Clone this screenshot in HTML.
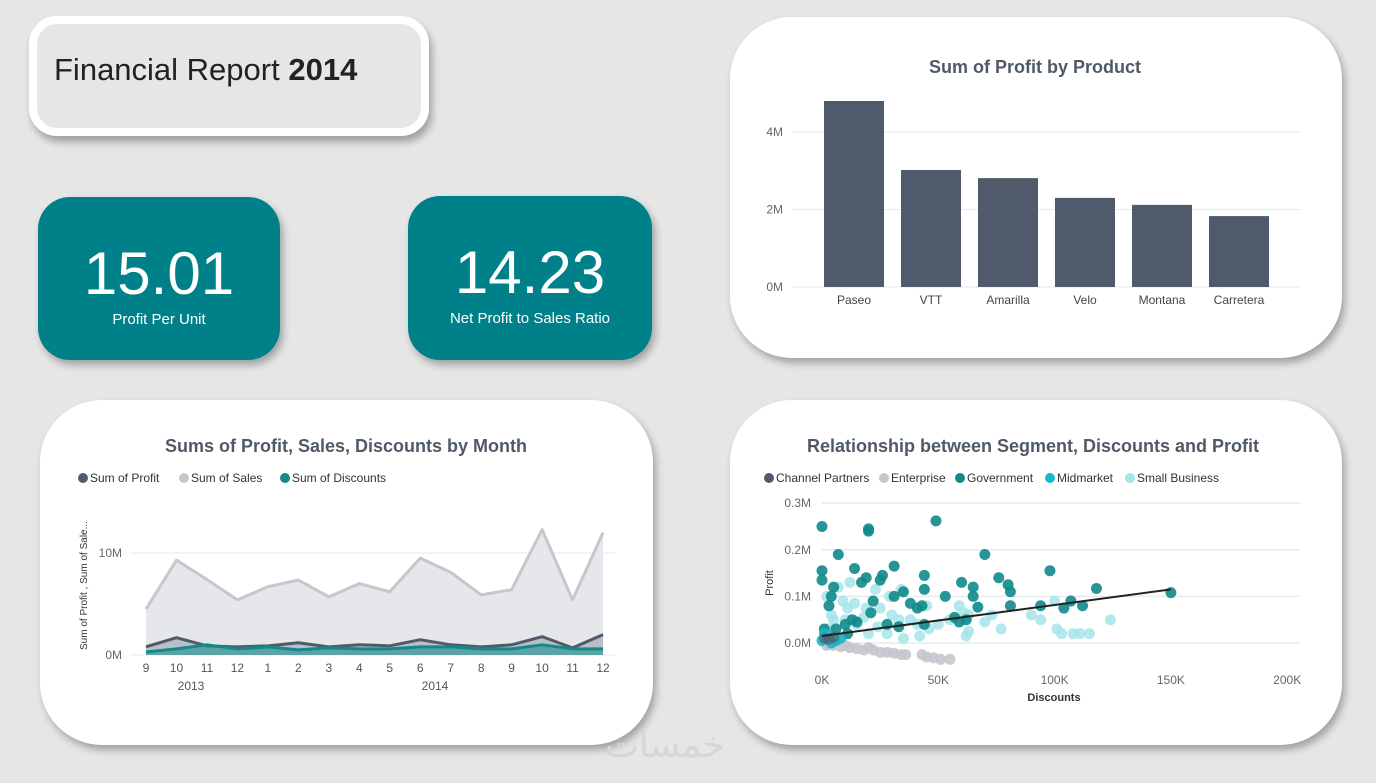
<!DOCTYPE html>
<html><head><meta charset="utf-8"><style>
html,body{margin:0;padding:0}
body{width:1376px;height:783px;background:#e6e6e6;position:relative;overflow:hidden;font-family:"Liberation Sans",sans-serif}
.card{position:absolute;background:#fff;box-shadow:3px 5px 8px rgba(0,0,0,0.3)}
.kpi{position:absolute;background:#00818a;border-radius:32px;color:#fff;text-align:center;box-shadow:3px 5px 8px rgba(0,0,0,0.3)}
.kpi .v{font-size:60px;font-weight:300;margin-top:42px;line-height:70px}
.kpi .l{font-size:15px;margin-top:2px}
svg{position:absolute;left:0;top:0}
</style></head><body>
<div style="position:absolute;left:29px;top:16px;width:384px;height:104px;border:8px solid #fff;border-radius:28px;background:#e6e6e6;box-shadow:3px 6px 8px rgba(0,0,0,0.3)">
<div style="position:absolute;left:17px;top:28px;font-size:31px;color:#222">Financial Report <b>2014</b></div></div>
<div class="kpi" style="left:38px;top:197px;width:242px;height:163px"><div class="v">15.01</div><div class="l">Profit Per Unit</div></div>
<div class="kpi" style="left:408px;top:196px;width:244px;height:164px"><div class="v">14.23</div><div class="l">Net Profit to Sales Ratio</div></div>
<div class="card" style="left:730px;top:17px;width:612px;height:341px;border-radius:62px"></div>
<div class="card" style="left:40px;top:400px;width:613px;height:345px;border-radius:62px"></div>
<div class="card" style="left:730px;top:400px;width:612px;height:345px;border-radius:62px"></div>
<div style="position:absolute;left:605px;top:725px;font-size:36px;color:#d6d6d6;font-family:'DejaVu Sans',sans-serif">خمسات</div>
<svg id="s" width="1376" height="783" xmlns="http://www.w3.org/2000/svg" font-family="Liberation Sans, sans-serif"></svg>
<script>
// Bar chart data
const products=["Paseo","VTT","Amarilla","Velo","Montana","Carretera"];
const profits=[4.8,3.02,2.81,2.30,2.12,1.83];
const barTicks=[0,2,4];
// Line chart data
const months=["9","10","11","12","1","2","3","4","5","6","7","8","9","10","11","12"];
const sales=[4.5,9.3,7.4,5.4,6.7,7.35,5.7,7.0,6.2,9.5,8.1,5.9,6.4,12.3,5.4,12.0];
const profitM=[0.8,1.7,0.9,0.8,0.9,1.2,0.8,1.0,0.9,1.5,1.0,0.8,1.0,1.8,0.7,2.0];
const discountsM=[0.3,0.6,1.0,0.6,0.8,0.5,0.7,0.6,0.6,0.8,0.8,0.6,0.6,1.0,0.6,0.6];
const lineTicks=[0,10];
// Scatter data [discountK, profitM]
const government=[[0,0.25],[20,0.24],[20,0.245],[49,0.262],[7,0.19],[70,0.19],[0,0.155],[14,0.16],[31,0.165],[98,0.155],[19,0.14],[26,0.145],[44,0.145],[76,0.14],[0,0.135],[17,0.13],[25,0.135],[60,0.13],[80,0.125],[65,0.12],[5,0.12],[118,0.117],[44,0.115],[35,0.11],[81,0.11],[4,0.1],[31,0.1],[53,0.1],[65,0.1],[150,0.108],[107,0.09],[22,0.09],[38,0.085],[3,0.08],[67,0.077],[81,0.08],[94,0.08],[112,0.08],[104,0.075],[41,0.075],[43,0.08],[21,0.065],[57,0.055],[62,0.05],[59,0.045],[44,0.04],[13,0.05],[10,0.04],[15,0.045],[28,0.04],[6,0.03],[33,0.035],[1,0.03],[11,0.02]];
const smallBusiness=[[12,0.13],[7,0.12],[23,0.115],[34,0.115],[2,0.1],[29,0.1],[14,0.085],[11,0.075],[19,0.075],[25,0.075],[45,0.08],[59,0.08],[61,0.065],[63,0.06],[73,0.06],[100,0.09],[111,0.02],[115,0.02],[124,0.05],[90,0.06],[94,0.05],[101,0.03],[103,0.02],[108,0.02],[77,0.03],[63,0.025],[62,0.015],[46,0.03],[50,0.04],[41,0.04],[38,0.05],[33,0.05],[28,0.02],[20,0.02],[15,0.04],[10,0.05],[5,0.05],[3,0.03],[8,0.01],[2,0.005],[24,0.035],[35,0.01],[42,0.015],[55,0.05],[70,0.045],[18,0.055],[30,0.06],[9,0.09],[4,0.06]];
const midmarket=[[0,0.005],[2,0.01],[4,0.0],[1,0.02],[6,0.005],[3,0.015],[8,0.01]];
const enterprise=[[2,-0.005],[5,-0.005],[8,-0.008],[12,-0.01],[15,-0.012],[18,-0.015],[22,-0.015],[25,-0.02],[28,-0.02],[31,-0.022],[34,-0.025],[36,-0.025],[43,-0.025],[45,-0.03],[48,-0.032],[51,-0.035],[55,-0.035],[10,-0.005],[20,-0.01],[3,-0.002]];
const channelPartners=[[1,0.01],[3,0.008],[5,0.012]];
const trend=[[0,0.015],[150,0.115]];
const xTicksK=[0,50,100,150,200];
const yTicksM=[0,0.1,0.2,0.3];

const S=document.getElementById('s');const NS="http://www.w3.org/2000/svg";
function mk(t,a,txt){const e=document.createElementNS(NS,t);for(const k in a)e.setAttribute(k,a[k]);if(txt!=null)e.textContent=txt;S.appendChild(e);return e;}

// ---- Bar chart
const bx=i=>854+i*77, by=v=>287-v*38.75;
let e=mk('text',{x:1035,y:73,'text-anchor':'middle','font-size':18,'font-weight':'bold',fill:'#505a66'},'Sum of Profit by Product');

barTicks.forEach(t=>{e=mk('line',{x1:792,x2:1300,y1:by(t),y2:by(t),stroke:'#eaeaea'});
e=mk('text',{x:783,y:by(t)+4,'text-anchor':'end','font-size':12,fill:'#666'},t+'M');});
products.forEach((p,i)=>{e=mk('rect',{x:bx(i)-30,y:by(profits[i]),width:60,height:by(0)-by(profits[i]),fill:'#4f5b6b'});

e=mk('text',{x:bx(i),y:304,'text-anchor':'middle','font-size':12,fill:'#444'},p);});

// ---- Line chart
const lx=i=>146+i*30.47, ly=v=>655-v*10.2;
e=mk('text',{x:346,y:452,'text-anchor':'middle','font-size':18,'font-weight':'bold',fill:'#505a66'},'Sums of Profit, Sales, Discounts by Month');

[['Sum of  Profit','#4f5b6b',78],['Sum of   Sales','#c4c7cd',179],['Sum of  Discounts','#108a8a',280]].forEach(l=>{
e=mk('circle',{cx:l[2]+5,cy:478,r:5,fill:l[1]});
e=mk('text',{x:l[2]+12,y:482,'font-size':12,fill:'#333','xml:space':'preserve'},l[0]);});
lineTicks.forEach(t=>{e=mk('line',{x1:130,x2:615,y1:ly(t),y2:ly(t),stroke:'#eaeaea'});
e=mk('text',{x:122,y:ly(t)+4,'text-anchor':'end','font-size':12,fill:'#666'},t+'M');});
e=mk('text',{x:0,y:0,'font-size':10,fill:'#333',transform:'translate(87,650) rotate(-90)'},'Sum of Profit , Sum of Sale...');
function series(vals,fill,fo,stroke,name){
 let d=vals.map((v,i)=>(i?'L':'M')+lx(i)+','+ly(v)).join('');
 e=mk('path',{d:d+'L'+lx(vals.length-1)+','+ly(0)+'L'+lx(0)+','+ly(0)+'Z',fill:fill,'fill-opacity':fo});
 e=mk('path',{d:d,fill:'none',stroke:stroke,'stroke-width':3,'stroke-linejoin':'round'});}
series(sales,'#e6e7ea',1,'#c4c7cd','sales');
series(profitM,'#8e96a1',0.5,'#4f5b6b','profit');
series(discountsM,'#108a8a',0.55,'#108a8a','discounts');
months.forEach((m,i)=>{e=mk('text',{x:lx(i),y:672,'text-anchor':'middle','font-size':12,fill:'#555'},m);});
e=mk('text',{x:191,y:690,'text-anchor':'middle','font-size':12,fill:'#555'},'2013');
e=mk('text',{x:435,y:690,'text-anchor':'middle','font-size':12,fill:'#555'},'2014');

// ---- Scatter
const sx=k=>822+k*2.326, sy=m=>643-m*466;
e=mk('text',{x:1033,y:452,'text-anchor':'middle','font-size':18,'font-weight':'bold',fill:'#505a66'},'Relationship between Segment, Discounts and Profit');

[['Channel Partners','#4f5b6b',764],['Enterprise','#c4c7cd',879],['Government','#108a8a',955],['Midmarket','#1ab7c9',1045],['Small Business','#a6e4ea',1125]].forEach(l=>{
e=mk('circle',{cx:l[2]+5,cy:478,r:5,fill:l[1]});
e=mk('text',{x:l[2]+12,y:482,'font-size':12,fill:'#333'},l[0]);});
yTicksM.forEach(t=>{e=mk('line',{x1:822,x2:1300,y1:sy(t),y2:sy(t),stroke:'#eaeaea','stroke-width':1.5});
e=mk('text',{x:811,y:sy(t)+4,'text-anchor':'end','font-size':12,fill:'#666'},t.toFixed(1)+'M');});
xTicksK.forEach(t=>{e=mk('text',{x:sx(t),y:684,'text-anchor':'middle','font-size':12,fill:'#666'},t+'K');});
e=mk('text',{x:1054,y:701,'text-anchor':'middle','font-size':11,'font-weight':'bold',fill:'#333'},'Discounts');
e=mk('text',{x:0,y:0,'font-size':11,fill:'#333','text-anchor':'middle',transform:'translate(773,583) rotate(-90)'},'Profit');
function pts(arr,col,op,name){arr.forEach(p=>{e=mk('circle',{cx:sx(p[0]),cy:sy(p[1]),r:5.5,fill:col,'fill-opacity':op});});}
pts(enterprise,'#c4c7cd',0.9,'enterprise');
pts(smallBusiness,'#a6e4ea',0.85,'small-business');
pts(government,'#108a8a',0.9,'government');
pts(midmarket,'#1ab7c9',0.9,'midmarket');
pts(channelPartners,'#4f5b6b',0.6,'channel-partners');
e=mk('line',{x1:sx(trend[0][0]),y1:sy(trend[0][1]),x2:sx(trend[1][0]),y2:sy(trend[1][1]),stroke:'#222','stroke-width':2});

</script>
</body></html>
